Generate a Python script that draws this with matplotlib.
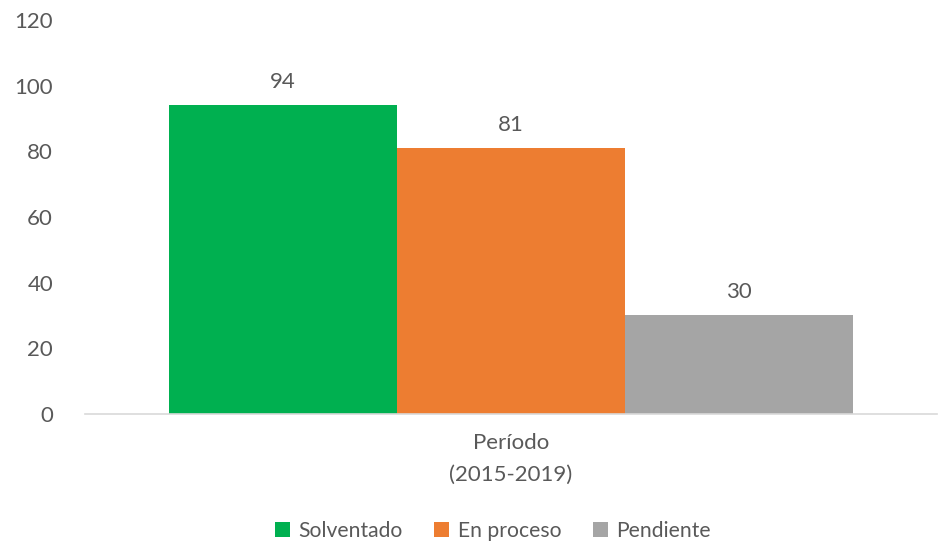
import numpy as np
import matplotlib
matplotlib.use("Agg")
import matplotlib.pyplot as plt

plt.rcParams['font.family'] = ['Lato', 'DejaVu Sans']

categoria = 'Período\n(2015-2019)'
series = ['Solventado', 'En proceso', 'Pendiente']
valores = [94, 81, 30]
colores = ['#00B050', '#ED7D31', '#A5A5A5']

texto = '#595959'

fig = plt.figure(figsize=(9.49, 5.41), dpi=100)
ax = fig.add_axes([0.0896, 0.2348, 0.8974, 0.7282])

ancho = 0.2676
x = np.arange(len(series)) - 1
for i in range(len(series)):
    ax.bar(x[i] * ancho, valores[i], width=ancho, color=colores[i], label=series[i])
    ax.text(x[i] * ancho, valores[i] + 4, str(valores[i]), ha='center', va='bottom',
            fontsize=16, color=texto)

ax.set_xlim(-0.5, 0.5)
ax.set_ylim(0, 120)
ax.set_yticks(np.arange(0, 121, 20))
ax.set_xticks([0])
ax.set_xticklabels([categoria], linespacing=1.7)
ax.tick_params(axis='y', length=0, pad=23, labelsize=16, labelcolor=texto)
ax.tick_params(axis='x', length=0, pad=14, labelsize=16, labelcolor=texto)
for s in ['top', 'right', 'left']:
    ax.spines[s].set_visible(False)
ax.spines['bottom'].set_color('#D9D9D9')
ax.spines['bottom'].set_linewidth(1.2)

ax.legend(loc='lower center', bbox_to_anchor=(0.479, -0.37), ncol=3, frameon=False,
          fontsize=15.2, labelcolor=texto, handlelength=0.7, handleheight=0.7,
          handletextpad=0.4, columnspacing=1.5)

fig.savefig('out.png', dpi=100)
